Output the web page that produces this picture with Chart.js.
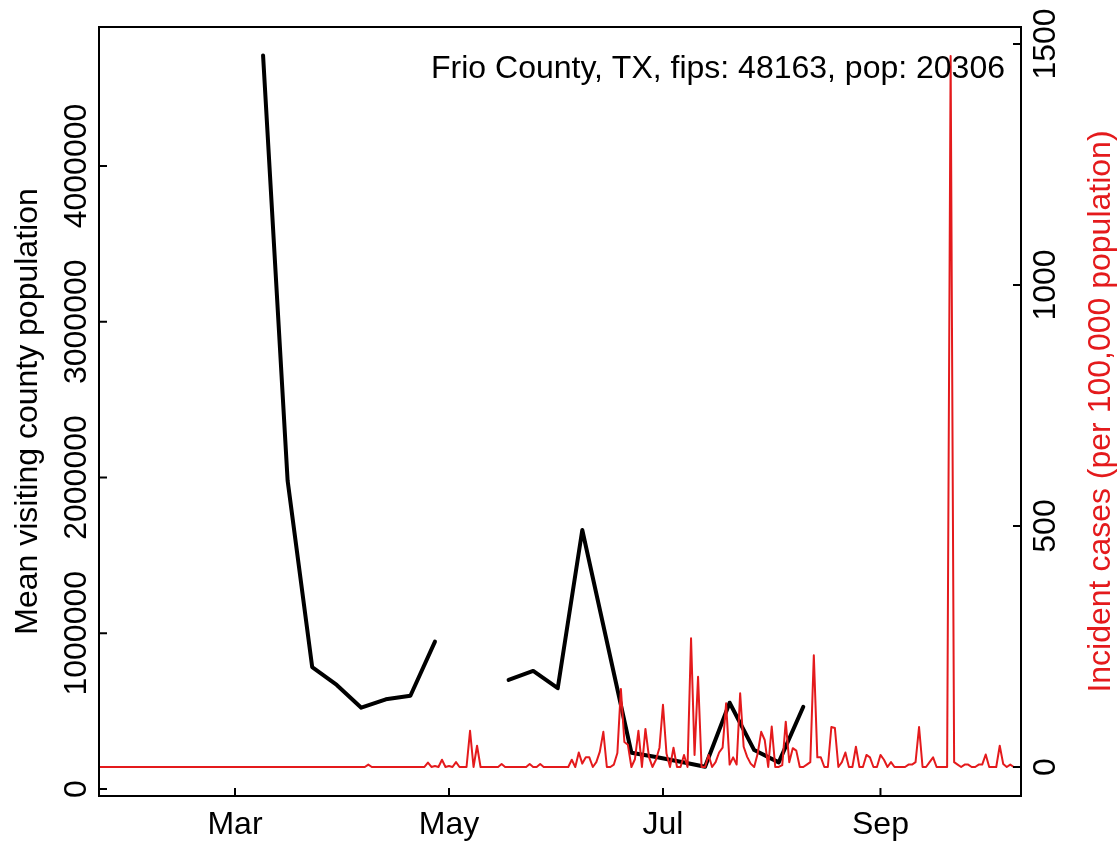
<!DOCTYPE html>
<html>
<head>
<meta charset="utf-8">
<script src="https://cdn.jsdelivr.net/npm/chart.js@4.4.1/dist/chart.umd.min.js"></script>
<style>
  html, body { margin: 0; padding: 0; background: #fff; }
  #wrap { width: 1119px; height: 841px; }
</style>
</head>
<body>
<div id="wrap"><canvas id="chart"></canvas></div>
<script>
// x values are day of year 2020 (Jan 1 = 0)

const countyLabel = "Frio County, TX, fips: 48163, pop: 20306";
const leftTitle = "Mean visiting county population";
const rightTitle = "Incident cases (per 100,000 population)";

// weekly mean visiting population (black line), null = missing week
const visitDays = [68, 75, 82, 89, 96, 103, 110, 117, 124, 131, 138, 145, 152, 159,
                   173, 180, 187, 194, 201, 208, 215, 222];
const visitValues = [4710000, 1980000, 783000, 668000, 522000, 576000, 599000, 946000, null, null,
                     700000, 758000, 647000, 1663000, 233000, 205000, 175000, 143000,
                     554000, 250000, 171000, 528000];

// daily incident cases per 100k (red line), first value is day 21 (Jan 22)
const caseFirstDay = 21;
const caseValues = [
  0, 0, 0, 0, 0, 0, 0, 0, 0, 0,          // 21
  0, 0, 0, 0, 0, 0, 0, 0, 0, 0,          // 31
  0, 0, 0, 0, 0, 0, 0, 0, 0, 0,          // 41
  0, 0, 0, 0, 0, 0, 0, 0, 0, 0,          // 51
  0, 0, 0, 0, 0, 0, 0, 0, 0, 0,          // 61
  0, 0, 0, 0, 0, 0, 0, 0, 0, 0,          // 71
  0, 0, 0, 0, 0, 0, 0, 0, 0, 0,          // 81
  0, 0, 0, 0, 0, 0, 0, 5, 0, 0,          // 91
  0, 0, 0, 0, 0, 0, 0, 0, 0, 0,          // 101
  0, 0, 0, 0, 9, 0, 2, 0, 15, 0,         // 111
  2, 0, 10, 0, 0, 0, 75, 0, 44, 0,       // 121
  0, 0, 0, 0, 0, 6, 0, 0, 0, 0,          // 131
  0, 0, 0, 6, 0, 0, 6, 0, 0, 0,          // 141
  0, 0, 0, 0, 0, 15, 0, 30, 7, 20,       // 151
  20, 0, 10, 32, 73, 0, 0, 5, 29, 162,   // 161
  52, 46, 0, 16, 75, 0, 79, 21, 0, 15,   // 171
  40, 129, 28, 0, 40, 0, 0, 25, 0, 267,  // 181
  25, 187, 0, 0, 25, 0, 10, 30, 40, 132, // 191
  5, 20, 5, 153, 42, 21, 7, 0, 28, 73,   // 201
  56, 0, 84, 0, 0, 4, 94, 10, 39, 34,    // 211
  0, 0, 5, 10, 232, 20, 20, 0, 0, 83,    // 221
  81, 0, 10, 30, 0, 0, 42, 0, 0, 25,     // 231
  20, 0, 0, 25, 15, 0, 10, 0, 0, 0,      // 241
  0, 5, 5, 10, 83, 0, 0, 10, 20, 0,      // 251
  0, 0, 0, 1475, 10, 5, 0, 5, 5, 0,      // 261
  0, 5, 5, 26, 0, 0, 0, 44, 6, 0,        // 271
  5, 0, 0, 0                             // 281
];

const monthTickDays = [60, 121, 182, 244];
const monthTickLabels = ["Mar", "May", "Jul", "Sep"];
const leftTicks = [0, 1000000, 2000000, 3000000, 4000000];
const rightTicks = [0, 500, 1000, 1500];

const RED = "#e41a1c";
const FONT = '32px "Liberation Sans", Arial, sans-serif';

const casePoints = caseValues.map((v, i) => ({ x: caseFirstDay + i, y: v }));
const visitPoints = visitDays.map((d, i) => ({ x: d, y: visitValues[i] }));

// R style box, inward ticks, rotated axis labels
const rFrame = {
  id: "rFrame",
  afterDraw(chart) {
    const { ctx, chartArea: a, scales } = chart;
    ctx.save();
    ctx.strokeStyle = "#000";
    ctx.lineWidth = 2;
    ctx.strokeRect(a.left, a.top, a.right - a.left, a.bottom - a.top);
    ctx.font = FONT;
    ctx.fillStyle = "#000";

    const seg = (x1, y1, x2, y2) => {
      ctx.beginPath(); ctx.moveTo(x1, y1); ctx.lineTo(x2, y2); ctx.stroke();
    };
    const vtext = (t, x, y) => {
      ctx.save();
      ctx.translate(x, y);
      ctx.rotate(-Math.PI / 2);
      ctx.textAlign = "center";
      ctx.textBaseline = "alphabetic";
      ctx.fillText(t, 0, 0);
      ctx.restore();
    };

    // bottom axis
    ctx.textAlign = "center";
    ctx.textBaseline = "alphabetic";
    monthTickDays.forEach((d, i) => {
      const x = scales.x.getPixelForValue(d);
      seg(x, a.bottom, x, a.bottom - 8);
      ctx.fillText(monthTickLabels[i], x, 834);
    });

    // left axis
    leftTicks.forEach(v => {
      const y = scales.y.getPixelForValue(v);
      seg(a.left, y, a.left + 8, y);
      vtext(String(v), 86, y);
    });

    // right axis
    rightTicks.forEach(v => {
      const y = scales.y2.getPixelForValue(v);
      seg(a.right, y, a.right - 8, y);
      vtext(String(v), 1055, y);
    });

    // axis titles
    const midY = (a.top + a.bottom) / 2;
    vtext(leftTitle, 37, midY);
    ctx.fillStyle = RED;
    vtext(rightTitle, 1110, midY);

    // county label
    ctx.fillStyle = "#000";
    ctx.textAlign = "right";
    ctx.fillText(countyLabel, 1005, 78);
    ctx.restore();
  }
};

new Chart(document.getElementById("chart"), {
  type: "line",
  data: {
    datasets: [
      {
        data: casePoints,
        yAxisID: "y2",
        borderColor: RED,
        borderWidth: 2,
        borderJoinStyle: "round",
        pointRadius: 0,
        tension: 0,
        clip: 0
      },
      {
        data: visitPoints,
        yAxisID: "y",
        borderColor: "#000",
        borderWidth: 4,
        borderJoinStyle: "round",
        borderCapStyle: "round",
        pointRadius: 0,
        tension: 0,
        spanGaps: false,
        clip: 0
      }
    ]
  },
  options: {
    responsive: true,
    maintainAspectRatio: false,
    animation: false,
    layout: { padding: { left: 99, top: 27, right: 98, bottom: 45 } },
    plugins: { legend: { display: false }, tooltip: { enabled: false } },
    scales: {
      x: { type: "linear", min: 21.23, max: 284.06, display: false },
      y: { type: "linear", min: -44944, max: 4892500, display: false },
      y2: { type: "linear", min: -60.2, max: 1535.3, display: false }
    }
  },
  plugins: [rFrame]
});
</script>
</body>
</html>
